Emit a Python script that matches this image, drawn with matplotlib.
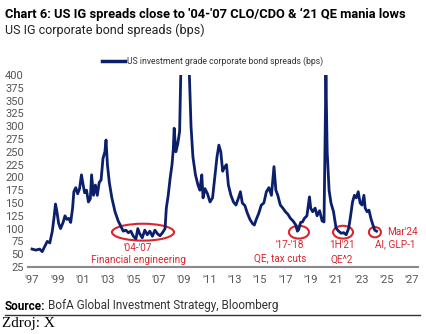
import matplotlib
matplotlib.use("Agg")
import matplotlib.pyplot as plt
from matplotlib.patches import Ellipse
from matplotlib.lines import Line2D

plt.rcParams['font.family'] = ['Roboto', 'DejaVu Sans']

# spread readings (bps) by decimal year
years = [1997.0, 1997.3, 1997.6, 1997.8, 1998.0, 1998.2, 1998.4, 1998.6, 1998.75, 1998.85,
         1998.95, 1999.1, 1999.25, 1999.45, 1999.6, 1999.75, 1999.9, 2000.05, 2000.2, 2000.3,
         2000.45, 2000.6, 2000.75, 2000.9, 2001.0, 2001.15, 2001.3, 2001.45, 2001.6, 2001.7,
         2001.85, 2002.0, 2002.15, 2002.3, 2002.45, 2002.6, 2002.75, 2002.84, 2002.95, 2003.1,
         2003.3, 2003.55, 2003.8, 2004.0, 2004.2, 2004.4, 2004.6, 2004.8, 2005.0, 2005.2,
         2005.35, 2005.5, 2005.7, 2005.9, 2006.1, 2006.3, 2006.5, 2006.7, 2006.9, 2007.1,
         2007.3, 2007.5, 2007.6, 2007.75, 2007.9, 2008.05, 2008.15, 2008.22, 2008.35, 2008.5,
         2008.65, 2008.74, 2008.9, 2009.0, 2009.2, 2009.42, 2009.55, 2009.7, 2009.9, 2010.1,
         2010.25, 2010.4, 2010.5, 2010.65, 2010.85, 2011.05, 2011.25, 2011.45, 2011.6, 2011.75,
         2011.9, 2012.05, 2012.2, 2012.35, 2012.5, 2012.7, 2012.9, 2013.1, 2013.3, 2013.45,
         2013.6, 2013.8, 2014.0, 2014.2, 2014.4, 2014.55, 2014.7, 2014.9, 2015.1, 2015.3,
         2015.5, 2015.7, 2015.9, 2016.1, 2016.25, 2016.4, 2016.6, 2016.8, 2017.0, 2017.2,
         2017.4, 2017.6, 2017.8, 2017.95, 2018.05, 2018.2, 2018.35, 2018.5, 2018.7, 2018.9,
         2019.0, 2019.15, 2019.35, 2019.5, 2019.7, 2019.9, 2020.05, 2020.15, 2020.2, 2020.3,
         2020.45, 2020.6, 2020.8, 2021.0, 2021.2, 2021.4, 2021.6, 2021.8, 2022.0, 2022.15,
         2022.3, 2022.45, 2022.6, 2022.75, 2022.9, 2023.05, 2023.2, 2023.3, 2023.45, 2023.6,
         2023.75, 2023.9, 2024.05, 2024.2]
spreads = [60, 58, 60, 55, 65, 75, 72, 95, 125, 148,
           135, 110, 100, 112, 125, 118, 120, 112, 140, 172,
           180, 168, 178, 205, 190, 170, 175, 152, 158, 205,
           165, 185, 165, 190, 195, 237, 250, 273, 225, 190,
           160, 133, 115, 105, 95, 97, 92, 95, 85, 80,
           100, 90, 82, 97, 88, 95, 85, 97, 90, 86,
           92, 100, 140, 165, 198, 225, 255, 296, 250, 265,
           290, 400, 520, 600, 520, 400, 300, 240, 205, 185,
           175, 205, 160, 178, 168, 152, 160, 205, 240, 263,
           250, 212, 220, 225, 185, 165, 152, 146, 160, 172,
           150, 145, 130, 118, 110, 107, 118, 130, 146, 150,
           172, 180, 165, 221, 175, 165, 146, 140, 133, 128,
           120, 115, 108, 95, 98, 112, 113, 120, 125, 162,
           140, 133, 140, 125, 135, 115, 113, 300, 400, 250,
           175, 150, 133, 101, 95, 91, 92, 88, 101, 125,
           152, 165, 160, 172, 150, 146, 165, 140, 133, 136,
           120, 108, 97, 95]

yticks = list(range(25, 401, 25))
xticks = list(range(1997, 2028, 2))
xticklabels = ["'%02d" % (y % 100) for y in xticks]

navy = '#0b1f6b'
red = '#d9262e'
grey = '#555555'

fig = plt.figure(figsize=(4.26, 3.34), dpi=100)
ax = fig.add_axes([28 / 426, 1 - 267 / 334, 390 / 426, 192 / 334])

ax.plot(years, spreads, color=navy, lw=2.0, solid_joinstyle='round')
ax.set_xlim(1996.68, 2027.47)
ax.set_ylim(25, 400)
ax.set_yticks(yticks)
ax.set_xticks(xticks)
ax.set_xticklabels(xticklabels)
ax.tick_params(length=0, labelsize=8, colors=grey, pad=6)
ax.tick_params(axis='y', pad=3)
for s in ['top', 'right', 'left']:
    ax.spines[s].set_visible(False)
ax.spines['bottom'].set_color('#8a8a8a')
ax.spines['bottom'].set_linewidth(1.5)

# circled periods
ax.add_patch(Ellipse((2005.76, 93), 4.9, 33, fill=False, ec=red, lw=1.5, clip_on=False))
ax.add_patch(Ellipse((2018.07, 93), 1.58, 25, fill=False, ec=red, lw=1.5, clip_on=False))
ax.add_patch(Ellipse((2021.55, 93), 1.58, 25, fill=False, ec=red, lw=1.5, clip_on=False))
ax.add_patch(Ellipse((2024.07, 93), 0.95, 20, fill=False, ec=red, lw=1.5, clip_on=False))

ann = dict(color=red, fontsize=7.2, va='center')
ax.text(2005.37, 62, "'04-'07", ha='center', **ann)
ax.text(2005.37, 39, "Financial engineering", ha='center', **ann)
ax.text(2017.36, 68, "'17-'18", ha='center', **ann)
ax.text(2016.57, 43, "QE, tax cuts", ha='center', **ann)
ax.text(2021.47, 68, "1H'21", ha='center', **ann)
ax.text(2021.47, 39, "QE^2", ha='center', **ann)
ax.text(2025.0, 93, "Mar'24", ha='left', **ann)
ax.text(2027.3, 70, "AI, GLP-1", ha='right', **ann)

# legend
fig.add_artist(Line2D([102 / 426, 125 / 426], [1 - 61 / 334] * 2, color=navy, lw=2.5))
fig.text(127 / 426, 1 - 61 / 334, "US investment grade corporate bond spreads (bps)",
         fontsize=6.2, color='#333333', va='center')

fig.text(5 / 426, 1 - 14 / 334, "Chart 6: US IG spreads close to '04-'07 CLO/CDO & \u201821 QE mania lows",
         fontsize=9.3, fontweight='bold', color='black', va='center')
fig.text(5 / 426, 1 - 30 / 334, "US IG corporate bond spreads (bps)",
         fontsize=9, color='#222222', va='center')

src = fig.text(5 / 426, 1 - 306 / 334, "Source:", fontsize=8.5, fontweight='bold', va='center')
r = fig.canvas.get_renderer()
src_right = src.get_window_extent(r).x1
fig.text((src_right + 3) / 426, 1 - 306 / 334, "BofA Global Investment Strategy, Bloomberg",
         fontsize=8.5, color='#333333', va='center')
fig.add_artist(Line2D([5 / 426, 420 / 426], [1 - 315 / 334] * 2, color='#333333', lw=1))
fig.text(2 / 426, 1 - 323 / 334, "Zdroj: X", family='Liberation Serif', fontsize=11, va='center')

fig.savefig('out.png', dpi=100)
